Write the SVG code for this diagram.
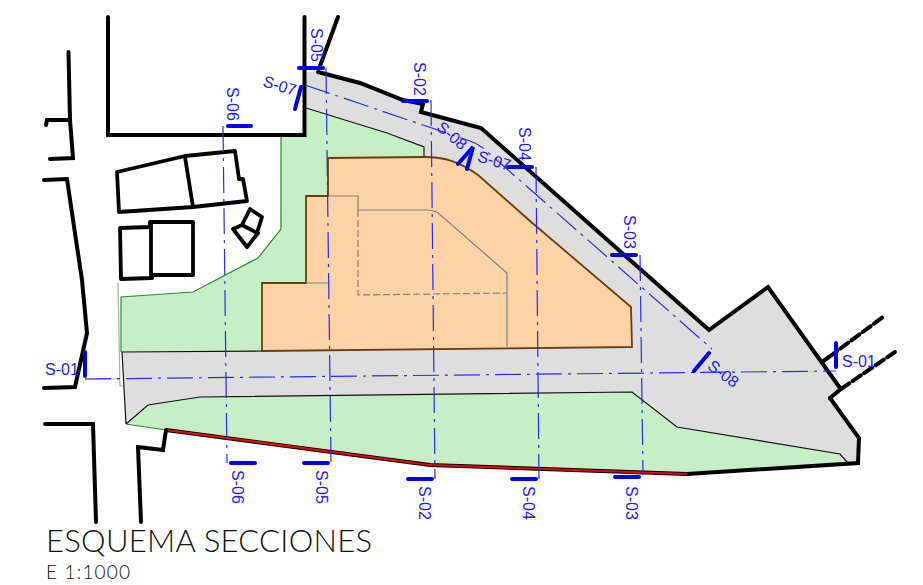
<svg xmlns="http://www.w3.org/2000/svg" width="923" height="585" viewBox="0 0 923 585">
<style>
.wall{fill:none;stroke:#000;stroke-width:4;stroke-linejoin:miter;stroke-linecap:round}
.bld{fill:none;stroke:#000;stroke-width:3.8;stroke-linejoin:round;stroke-linecap:round}
.sec{fill:none;stroke:#2a2af0;stroke-width:1.200;stroke-dasharray:26 6 3 6}
.tick{fill:none;stroke:#0000e6;stroke-width:4;stroke-linecap:round}
.lbl{font-family:"Liberation Sans",Arial,sans-serif;font-size:16px;fill:#2020f5}
.in{fill:none;stroke:#808080;stroke-width:1.200}
.ttl{font-family:Lato,"Open Sans",sans-serif;font-weight:300;fill:#111}
</style>
<rect width="923" height="585" fill="#fff"/>
<g id="site">
<path id="green-north" fill="#c6efc6" stroke="none" d="M121 297L193 292L258 258L280 229L281 135H304.500L306 108L387 133L424 147V157H328V196H306V283H262V351L122 352Z"/>
<path fill="none" stroke="#2e8b2e" stroke-width="1.200" d="M281 135V229L258 258L193 292L121 297V352"/>
<path id="green-south" fill="#c6efc6" stroke="none" d="M126 424L148 405L200 397L632 392L677 427L840 454L848 463L687 474L430 465L166 430Z"/>
<path d="M126 424L166 430" fill="none" stroke="#2e8b2e" stroke-width="1.200"/>
<path id="road" fill="#dedede" stroke="none" d="M306 72L318 72L360 83L403 100L423 104L421 112L481 128L709 330L768 287L840 388L830 398L859 438L858 463L848 463L840 454L677 427L632 392L200 397L148 405L126 424L122 352L632 347L631 307L530 221L478 175C460 162 445 157 424 157V147L387 133L306 108Z"/>
<path d="M306 108L387 133L424 147V157M126 424L148 405L200 397L632 392L677 427L840 454L848 463M126 424L122 352L262 351" fill="none" stroke="#111" stroke-width="1.200"/>
<path id="building" fill="#fdd3a5" stroke="#6b3d10" stroke-width="1.800" d="M262 351V283H306V196H328V158L424 157C445 157 460 162 478 175L530 221L631 307L632 347Z"/>
<path class="in" d="M328 196H358V210H427C432 210 434 211 437 212L507 273V347M306 283H329"/>
<path class="in" stroke-dasharray="7 3" d="M358 210V295L507 293"/>
<path d="M118 283L120 386H123M85 379H120" fill="none" stroke="#aaa" stroke-width="1.200"/>
</g>
<g id="walls">
<path class="wall" d="M108 17V135H304.500V17"/>
<path class="wall" d="M338 17L320 66"/>
<path class="wall" d="M318 72L360 83L403 100L423 104L421 112L481 128L709 330L768 287L840 388"/>
<path class="wall" d="M830 398L859 438L858 463L687 474"/>
<path class="wall" d="M830 398L841 389"/>
<path class="wall" stroke-dasharray="10 4" d="M841 389L895 352"/>
<path class="wall" d="M822 362L829 357"/>
<path class="wall" stroke-dasharray="10 4" d="M829 357L883 317"/>
<path d="M166 430L430 465L687 474" fill="none" stroke="#000" stroke-width="4"/>
<path d="M166 430L430 465L687 474" fill="none" stroke="#e60000" stroke-width="2.200"/>
<path class="wall" d="M166 430L163 450L138 447L141 522"/>
<path class="wall" d="M45 424H93L96 522"/>
<path class="wall" d="M44 180L67 179L76 240L82 280L87 333L75 387L44 388"/>
<path class="wall" d="M68.500 52L70 120L73 158L50 159M46 125L47 120H70"/>
</g>
<g id="house-1"><path class="bld" d="M117 172L185 156L235 151L239 179H243L247 201L193 207L119 212Z"/><path class="bld" d="M185 157L193 207"/></g>
<g id="house-2"><path class="bld" d="M120 228L150 227V222H193V275H152V278L121 279Z"/><path class="bld" d="M151 223V278"/></g>
<g id="shed"><path class="bld" d="M250 209L262 217L257 233L242 225ZM242 225L233 229L247 247L258 233"/></g>
<g id="sections">
<path class="sec" d="M326 68L331 462"/>
<path class="sec" d="M431 100L435 479"/>
<path class="sec" d="M536 167L539 479"/>
<path class="sec" d="M640 255L643 475"/>
<path class="sec" d="M223 126L227 463"/>
<path class="sec" d="M85 379L836 371"/>
<path class="sec" d="M305 85L470 141C476 143 480 146 483 148L712 349"/>
<path class="tick" d="M299 68H323M403 101H427M508 167H532M612 255H636M228 126H251M231 463H255M304 463H328M408 479H432M512 479H536M615 477H639M85 352V376M836 343V367M295 109L301 87M458 164L473 147L467 169M694 371L709 353"/>
<g class="lbl">
<text transform="translate(310.500 28) rotate(90)">S-05</text>
<text transform="translate(414 62) rotate(90)">S-02</text>
<text transform="translate(518.500 127) rotate(90)">S-04</text>
<text transform="translate(623.500 215) rotate(90)">S-03</text>
<text transform="translate(227 87) rotate(90)">S-06</text>
<text transform="translate(231.500 470) rotate(90)">S-06</text>
<text transform="translate(315.500 470) rotate(90)">S-05</text>
<text transform="translate(418.500 486) rotate(90)">S-02</text>
<text transform="translate(522.500 486) rotate(90)">S-04</text>
<text transform="translate(625.500 486) rotate(90)">S-03</text>
<text x="45" y="375">S-01</text>
<text x="842" y="367">S-01</text>
<text transform="translate(262 86) rotate(17)">S-07</text>
<text transform="translate(476.500 161) rotate(17)">S-07</text>
<text transform="translate(435.500 129) rotate(40)">S-08</text>
<text transform="translate(706.500 368) rotate(37)">S-08</text>
</g>
</g>
<g id="title">
<text class="ttl" x="46" y="552" font-size="31" textLength="326">ESQUEMA SECCIONES</text>
<text class="ttl" x="46" y="579" font-size="19" textLength="84">E 1:1000</text>
</g>
</svg>
